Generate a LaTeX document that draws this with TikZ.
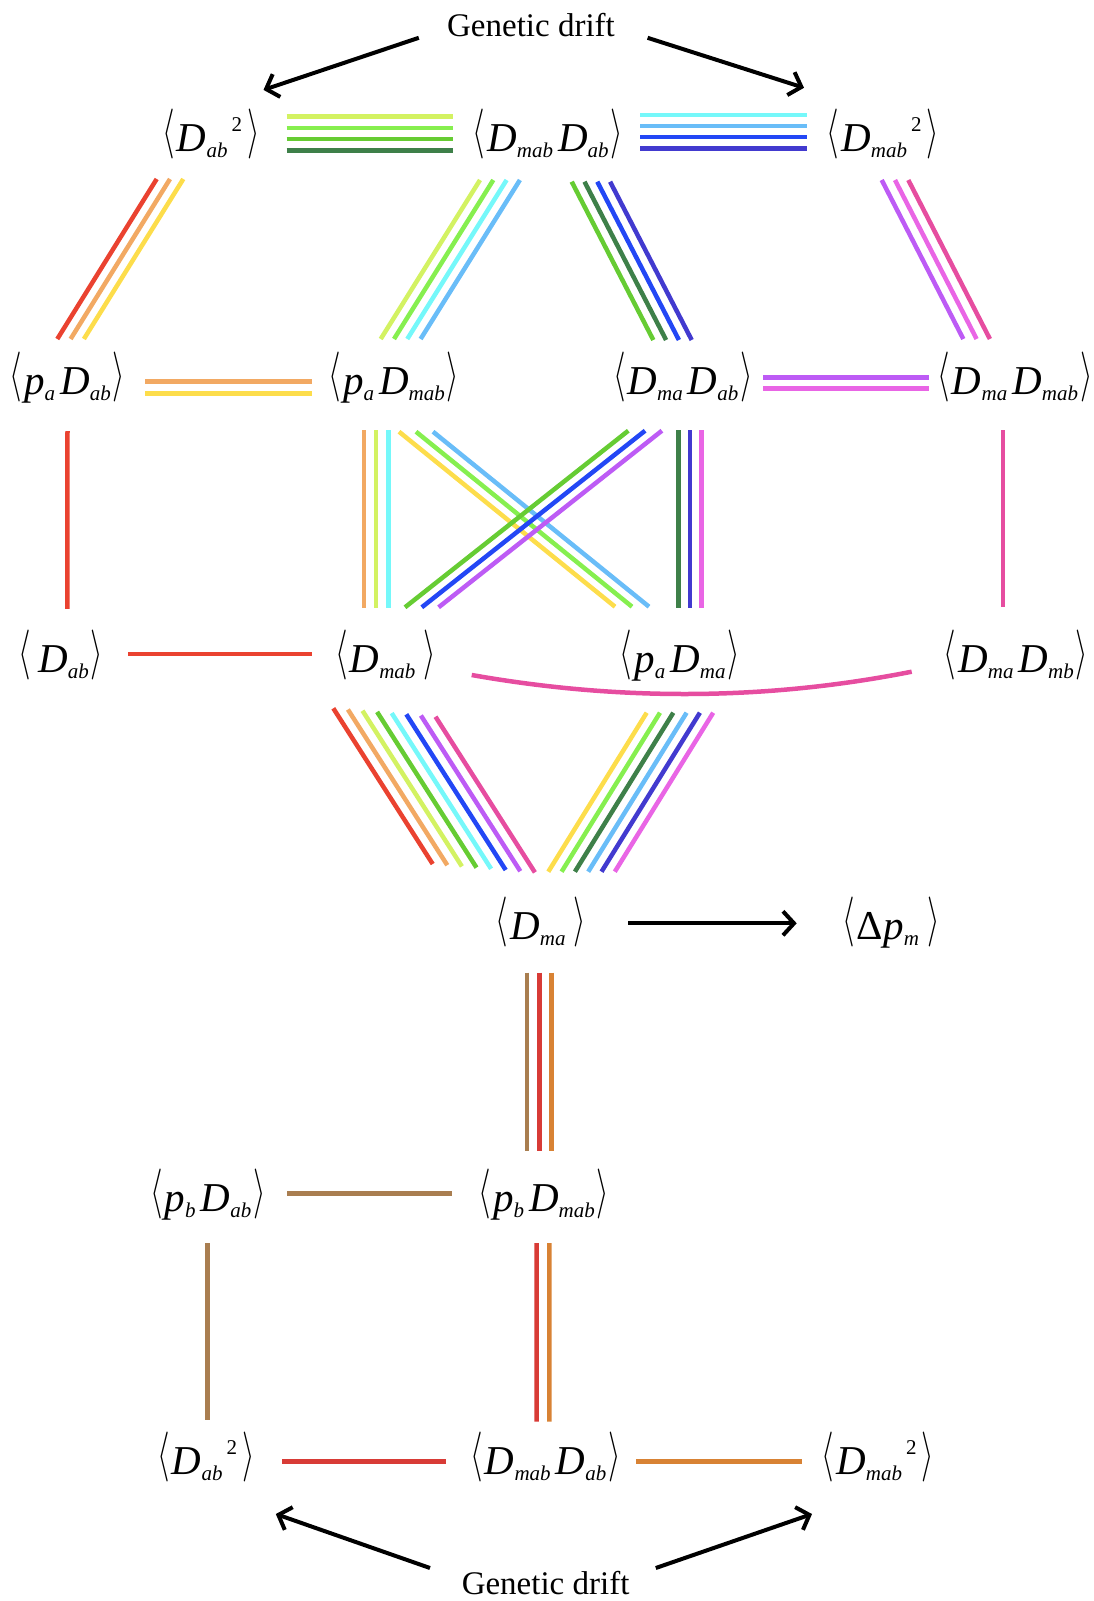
\documentclass[tikz,border=0pt]{standalone}
\usepackage{graphicx}
\usepackage{fontspec}
\setmainfont{Liberation Serif}
\usetikzlibrary{calc,arrows.meta}

\definecolor{cRed}{HTML}{EA4230}
\definecolor{cOrange}{HTML}{F2A963}
\definecolor{cYellow}{HTML}{FDDD4B}
\definecolor{cLime}{HTML}{D3F262}
\definecolor{cLgreen}{HTML}{86EF4F}
\definecolor{cGreen}{HTML}{66CC33}
\definecolor{cDgreen}{HTML}{3E8049}
\definecolor{cCyan}{HTML}{75F8FA}
\definecolor{cLblue}{HTML}{69BDF8}
\definecolor{cBlue}{HTML}{2347F5}
\definecolor{cIndigo}{HTML}{423ACF}
\definecolor{cPurple}{HTML}{BD5BF5}
\definecolor{cMagenta}{HTML}{E965E5}
\definecolor{cPink}{HTML}{E64DA0}
\definecolor{cBrown}{HTML}{A97E50}
\definecolor{cRedb}{HTML}{D83B36}
\definecolor{cOrangeb}{HTML}{D88234}

% moments
\newcommand{\Dv}[1]{\textit{D}\raisebox{-6pt}{\fontsize{21}{21}\selectfont\itshape #1}}
\newcommand{\pv}[1]{\textit{p}\raisebox{-6pt}{\fontsize{21}{21}\selectfont\itshape #1}}
\newcommand{\sq}{\hspace{4pt}\raisebox{20pt}{\fontsize{21}{21}\selectfont 2}\hspace{3pt}}
\newcommand{\gap}{\hspace{5pt}}
\newcommand{\avg}[1]{\raisebox{5pt}{\scalebox{3.2}[5.0]{\normalsize$\langle$}}\hspace{2pt}#1\hspace{2pt}\raisebox{5pt}{\scalebox{3.2}[5.0]{\normalsize$\rangle$}}}

\begin{document}
\begin{tikzpicture}[x=1pt, y=-1pt,
    term/.style={anchor=base, inner sep=0pt, font=\fontsize{41}{50}\selectfont},
    drift/.style={anchor=base, inner sep=0pt, font=\fontsize{33}{40}\selectfont},
    link/.style={line width=4.5pt},
    push/.style={line width=4pt, -{Straight Barb[length=11pt,width=24pt]}}]
    \useasboundingbox (0,0) rectangle (1094,1601);

    % genetic drift
    \node[drift] (GT) at (531,36) {Genetic drift};
    \node[drift] (GB) at (545.6,1594) {Genetic drift};

    % upper block
    \node[term] (A1) at (211,151) {\avg{\Dv{ab}\sq}};
    \node[term] (A2) at (548,151) {\avg{\Dv{mab}\gap\Dv{ab}}};
    \node[term] (A3) at (883,151) {\avg{\Dv{mab}\sq}};

    \node[term] (B1) at (67.5,394) {\avg{\pv{a}\gap\Dv{ab}}};
    \node[term] (B2) at (394,394) {\avg{\pv{a}\gap\Dv{mab}}};
    \node[term] (B3) at (683,394) {\avg{\Dv{ma}\gap\Dv{ab}}};
    \node[term] (B4) at (1015,394) {\avg{\Dv{ma}\gap\Dv{mab}}};

    \node[term] (C1) at (61,672) {\avg{\hspace{5pt}\Dv{ab}}};
    \node[term] (C2) at (385.6,672) {\avg{\Dv{mab}\hspace{6pt}}};
    \node[term] (C3) at (680,672) {\avg{\pv{a}\gap\Dv{ma}}};
    \node[term] (C4) at (1016,672) {\avg{\Dv{ma}\gap\Dv{mb}}};

    \node[term] (D1) at (541,939) {\avg{\Dv{ma}\hspace{6pt}}};
    \node[term] (D2) at (891,939) {\avg{Δ\pv{m}\hspace{6pt}}};

    % lower block
    \node[term] (E1) at (208,1211) {\avg{\pv{b}\gap\Dv{ab}}};
    \node[term] (E2) at (544,1211) {\avg{\pv{b}\gap\Dv{mab}}};

    \node[term] (F1) at (206,1474) {\avg{\Dv{ab}\sq}};
    \node[term] (F2) at (545.6,1474) {\avg{\Dv{mab}\gap\Dv{ab}}};
    \node[term] (F3) at (878,1474) {\avg{\Dv{mab}\sq}};

    % drift arrows
    \draw[push] ($(GT.base)+(-112.2,1.8)$) -- ($(A1.base)+(52.5,-61.1)$);
    \draw[push] ($(GT.base)+(116.6,1.8)$) -- ($(A3.base)+(-79,-63.2)$);
    \draw[push] ($(GB.base)+(-115.6,-26)$) -- ($(F1.base)+(69.8,40)$);
    \draw[push] ($(GB.base)+(110.2,-26)$) -- ($(F3.base)+(-66,40)$);

    % first row links
    \foreach \c [count=\k from 0] in {cLime,cLgreen,cGreen,cDgreen}
        \draw[link,\c] ($(A1.base)+(75.7,{-34.3+11.2*\k})$) -- ($(A2.base)+(-95,{-34.3+11.2*\k})$);
    \foreach \c [count=\k from 0] in {cCyan,cLblue,cBlue,cIndigo}
        \draw[link,\c] ($(A2.base)+(92,{-36+11.1*\k})$) -- ($(A3.base)+(-76.3,{-36+11.1*\k})$);

    % first to second row
    \foreach \c [count=\k from 0] in {cRed,cOrange,cYellow}
        \draw[link,\c] ($(A1.base)+({-54.3+13.3*\k},28)$) -- ($(B1.base)+({-10.2+13.3*\k},-55)$);
    \foreach \c [count=\k from 0] in {cLime,cLgreen,cCyan,cLblue}
        \draw[link,\c] ($(A2.base)+({-68+13.3*\k},29)$) -- ($(B2.base)+({-13.3+13.3*\k},-55)$);
    \foreach \c [count=\k from 0] in {cGreen,cDgreen,cBlue,cIndigo}
        \draw[link,\c] ($(A2.base)+({23.7+12.8*\k},30.7)$) -- ($(B3.base)+({-29.7+12.8*\k},-54)$);
    \foreach \c [count=\k from 0] in {cPurple,cMagenta,cPink}
        \draw[link,\c] ($(A3.base)+({-1.3+13.3*\k},29)$) -- ($(B4.base)+({-51.7+13.3*\k},-55)$);

    % second row links
    \foreach \c [count=\k from 0] in {cOrange,cYellow}
        \draw[link,\c] ($(B1.base)+(77.5,{-12.3+11.6*\k})$) -- ($(B2.base)+(-82.3,{-12.3+11.6*\k})$);
    \foreach \c [count=\k from 0] in {cPurple,cMagenta}
        \draw[link,\c] ($(B3.base)+(80.3,{-16.7+11*\k})$) -- ($(B4.base)+(-85.7,{-16.7+11*\k})$);

    % second to third row
    \draw[link,cRed] ($(B1.base)+(0,37)$) -- ($(C1.base)+(6.4,-63.2)$);
    \foreach \c [count=\k from 0] in {cOrange,cLime,cCyan}
        \draw[link,\c] ($(B2.base)+({-30+12.2*\k},36)$) -- ($(C2.base)+({-21.6+12.2*\k},-63.7)$);
    \foreach \c [count=\k from 0] in {cYellow,cLgreen,cLblue}
        \draw[link,\c] ($(B2.base)+({5+17*\k},37.7)$) -- ($(C3.base)+({-65+17*\k},-65.3)$);
    \foreach \c [count=\k from 0] in {cGreen,cBlue,cPurple}
        \draw[link,\c] ($(B3.base)+({-54.7+16.8*\k},36.7)$) -- ($(C2.base)+({19.4+16.8*\k},-64.7)$);
    \foreach \c [count=\k from 0] in {cDgreen,cIndigo,cMagenta}
        \draw[link,\c] ($(B3.base)+({-4.7+11.7*\k},36)$) -- ($(C3.base)+({-1.7+11.7*\k},-64)$);
    \draw[link,cPink] ($(B4.base)+(-12,36)$) -- ($(C4.base)+(-13,-65)$);

    % third row links
    \draw[link,cRed] ($(C1.base)+(67.3,-18)$) -- ($(C2.base)+(-73.9,-18)$);
    \draw[link,cPink] ($(C2.base)+(86.1,3)$) .. controls +(147,26) and +(-147,29) .. ($(C4.base)+(-104.3,-0.3)$);

    % into D_ma
    \foreach \c [count=\k from 0] in {cRed,cOrange,cLime,cGreen,cCyan,cBlue,cPurple,cPink}
        \draw[link,\c] ($(C2.base)+({-52.3+14.6*\k},{36.3+1.2*\k})$) -- ($(D1.base)+({-108.3+14.6*\k},{-75+1.2*\k})$);
    \foreach \c [count=\k from 0] in {cYellow,cLgreen,cDgreen,cLblue,cIndigo,cMagenta}
        \draw[link,\c] ($(C3.base)+({-33.3+13.3*\k},40.7)$) -- ($(D1.base)+({7.3+13.3*\k},-67.3)$);

    \draw[push] ($(D1.base)+(87.3,-15.7)$) -- ($(D2.base)+(-94.3,-15.7)$);

    % lower block links
    \foreach \c [count=\k from 0] in {cBrown,cRedb,cOrangeb}
        \draw[link,\c] ($(D1.base)+({-14+12.3*\k},33.5)$) -- ($(E2.base)+({-17+12.3*\k},-60)$);
    \draw[link,cBrown] ($(E1.base)+(79,-17.7)$) -- ($(E2.base)+(-92.5,-17.7)$);
    \draw[link,cBrown] ($(E1.base)+(-0.6,32)$) -- ($(F1.base)+(1.4,-54)$);
    \foreach \c [count=\k from 0] in {cRedb,cOrangeb}
        \draw[link,\c] ($(E2.base)+({-7.3+12.6*\k},32)$) -- ($(F2.base)+({-8.9+12.6*\k},-52.3)$);
    \draw[link,cRedb] ($(F1.base)+(76,-12.3)$) -- ($(F2.base)+(-99.2,-12.3)$);
    \draw[link,cOrangeb] ($(F2.base)+(90.8,-12.3)$) -- ($(F3.base)+(-76.1,-12.3)$);
\end{tikzpicture}
\end{document}
